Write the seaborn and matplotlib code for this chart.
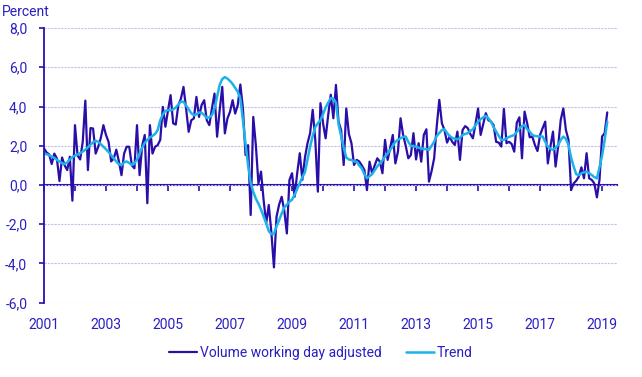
import numpy as np
import pandas as pd
import matplotlib
matplotlib.use("Agg")
import matplotlib.pyplot as plt
from matplotlib.ticker import FuncFormatter
import seaborn as sns

# monthly series, Jan 2001 - Mar 2019
volume = [
    1.86, 1.66, 1.56, 1.07, 1.6, 1.35, 0.2, 1.4, 1.0, 0.76, 1.44, -0.8,
    3.05, 1.5, 1.3, 2.2, 4.3, 0.76, 2.9, 2.88, 1.6, 1.95, 2.4, 3.05,
    2.55, 2.2, 1.2, 1.35, 1.8, 1.2, 0.5, 1.6, 1.95, 1.95, 1.0, 0.85,
    3.05, 0.5, 2.0, 2.55, -0.93, 3.05, 1.6, 1.95, 2.03, 2.3, 3.98, 2.97,
    3.8, 4.58, 3.14, 3.08, 4.07, 4.4, 5.0, 3.9, 2.71, 3.3, 3.39, 4.49,
    3.47, 4.07, 4.32, 3.3, 3.05, 3.9, 4.66, 2.46, 3.81, 5.0, 2.63, 3.39,
    3.73, 4.32, 3.64, 4.07, 5.12, 3.9, 1.53, 2.03, -1.53, 3.47, 2.03, 0.08,
    0.68, -0.76, -1.95, -1.02, -2.4, -4.2, -1.62, -1.0, -0.6, -1.3, -2.47, 0.26,
    0.6, -0.6, 0.6, 1.62, 0.26, 1.4, 2.13, 2.64, 3.83, 2.3, -0.34, 4.17,
    3.15, 2.38, 3.57, 4.6, 3.4, 5.1, 3.23, 2.8, 1.02, 3.9, 2.6, 2.13,
    1.02, 1.28, 1.2, 1.0, 0.77, -0.26, 1.19, 0.6, 1.0, 1.36, 1.19, 0.6,
    2.3, 1.28, 1.9, 2.55, 1.1, 1.7, 3.4, 2.55, 2.0, 1.36, 1.53, 2.64,
    1.3, 2.13, 1.19, 2.55, 2.84, 0.17, 0.7, 1.36, 2.98, 4.34, 3.15, 2.8,
    2.16, 2.47, 2.2, 2.04, 2.72, 1.28, 2.8, 3.0, 2.9, 2.6, 2.38, 3.1,
    3.9, 2.55, 3.1, 3.66, 3.3, 3.23, 3.06, 2.2, 2.16, 1.96, 3.88, 2.13,
    2.2, 2.09, 1.7, 3.18, 3.45, 1.36, 3.74, 3.15, 2.43, 2.47, 2.04, 1.73,
    2.55, 2.9, 3.23, 1.1, 1.96, 2.72, 0.94, 1.96, 3.32, 3.9, 2.8, 2.3,
    -0.26, 0.08, 0.22, 0.43, 0.9, 0.34, 1.62, 0.34, 0.26, 0.08, -0.63, 0.26,
    2.47, 2.64, 3.7,
]

trend = [
    1.6, 1.57, 1.52, 1.45, 1.38, 1.28, 1.2, 1.12, 1.07, 1.15, 1.3, 1.42,
    1.5, 1.56, 1.62, 1.7, 1.8, 1.92, 2.05, 2.18, 2.26, 2.2, 2.08, 1.95,
    1.82, 1.68, 1.52, 1.36, 1.2, 1.05, 1.02, 1.15, 1.2, 1.12, 1.02, 1.1,
    1.3, 1.6, 1.9, 2.15, 2.3, 2.42, 2.5, 2.6, 2.8, 3.3, 3.6, 3.78,
    3.82, 3.8, 3.85, 3.95, 4.1, 4.25, 4.24, 4.05, 3.85, 3.66, 3.56, 3.6,
    3.7, 3.68, 3.56, 3.42, 3.45, 3.56, 3.9, 4.5, 5.1, 5.4, 5.5, 5.42,
    5.3, 5.15, 4.95, 4.75, 4.4, 3.3, 2.1, 1.0, 0.1, -0.35, -0.7, -0.95,
    -1.25, -1.6, -1.95, -2.35, -2.5, -2.5, -2.1, -1.8, -1.45, -1.15, -1.0, -0.85,
    -0.75, -0.5, -0.2, 0.1, 0.4, 0.65, 1.3, 1.95, 2.5, 2.95, 3.15, 3.3,
    3.6, 3.95, 4.2, 4.42, 4.4, 4.2, 3.1, 2.5, 1.9, 1.4, 1.3, 1.28,
    1.2, 1.19, 1.0, 0.85, 0.55, 0.34, 0.45, 0.55, 0.75, 0.95, 1.1, 1.25,
    1.45, 1.6, 1.79, 2.0, 2.2, 2.3, 2.38, 2.45, 2.47, 2.2, 2.0, 1.97,
    1.96, 1.9, 1.87, 1.84, 1.82, 1.79, 2.0, 2.2, 2.5, 2.65, 2.8, 2.84,
    2.65, 2.5, 2.4, 2.36, 2.33, 2.4, 2.55, 2.6, 2.64, 2.75, 2.84, 3.05,
    3.23, 3.35, 3.45, 3.52, 3.4, 3.23, 2.95, 2.72, 2.5, 2.3, 2.3, 2.38,
    2.45, 2.5, 2.55, 2.7, 2.89, 3.0, 3.06, 2.85, 2.72, 2.55, 2.5, 2.48,
    2.47, 2.47, 2.2, 1.96, 1.85, 1.79, 1.9, 2.04, 2.3, 2.47, 2.35, 2.04,
    1.4, 0.94, 0.55, 0.5, 0.6, 0.65, 0.68, 0.6, 0.51, 0.4, 0.34, 0.9,
    1.5, 2.3, 3.23,
]

labels = ["Volume working day adjusted", "Trend"]
year_labels = list(range(2001, 2020, 2))

dates = pd.date_range("2001-01-01", periods=len(volume), freq="MS")
df = pd.DataFrame({
    "t": dates.year + (dates.month - 1) / 12,
    labels[0]: volume,
    labels[1]: trend,
})

sns.set_theme(style="white")
plt.rcParams["font.family"] = ["Roboto", "DejaVu Sans"]

text_col = "#2a1fc0"
dark = "#2a0ea8"
light = "#1cb2ea"
axis_col = "#2410b0"

fig = plt.figure(figsize=(6.42, 3.77), dpi=100)
ax = fig.add_axes([0.0685, 0.197, 0.8925, 0.7287])

sns.lineplot(data=df, x="t", y=labels[0], ax=ax, color=dark, linewidth=1.6, label=labels[0])
sns.lineplot(data=df, x="t", y=labels[1], ax=ax, color=light, linewidth=1.8, label=labels[1])

ax.set_xlim(2001, 2019.48)
ax.set_ylim(-6, 8)
ax.set_yticks(np.arange(-6, 9, 2))
ax.yaxis.set_major_formatter(FuncFormatter(lambda v, p: f"{v:.1f}".replace(".", ",")))
ax.set_xticks(year_labels)
ax.set_xlabel("")
ax.set_ylabel("")

ax.yaxis.grid(True, color="#c4c0ec", linestyle=(0, (2, 1)), linewidth=0.8)
ax.xaxis.grid(False)
for s in ["top", "right", "bottom"]:
    ax.spines[s].set_visible(False)
ax.spines["left"].set_color(axis_col)
ax.spines["left"].set_linewidth(1.3)

ax.tick_params(axis="y", left=True, length=3.5, width=1.2, color=axis_col,
               pad=8.5, labelsize=10, labelcolor=text_col)
ax.tick_params(axis="x", bottom=True, length=0, pad=11, labelsize=10, labelcolor=text_col)

# zero line with yearly ticks
zero = ax.secondary_xaxis(6 / 14)
zero.set_xticks(range(2001, 2020))
zero.tick_params(axis="x", length=4.5, width=1.2, color=axis_col, labelbottom=False)
zero.spines["bottom"].set_color(axis_col)
zero.spines["bottom"].set_linewidth(1.5)

fig.text(0.003, 1 - 12 / 377, "Percent", color=text_col, fontsize=10, va="center", ha="left")

ax.get_legend().remove()
h, l = ax.get_legend_handles_labels()
fig.legend(h, l, loc="center", bbox_to_anchor=(0.5, 0.064), ncol=2, frameon=False,
           handlelength=2.0, handletextpad=0.2, columnspacing=1.8,
           fontsize=10, labelcolor=text_col)

fig.savefig("out.png", dpi=100)
